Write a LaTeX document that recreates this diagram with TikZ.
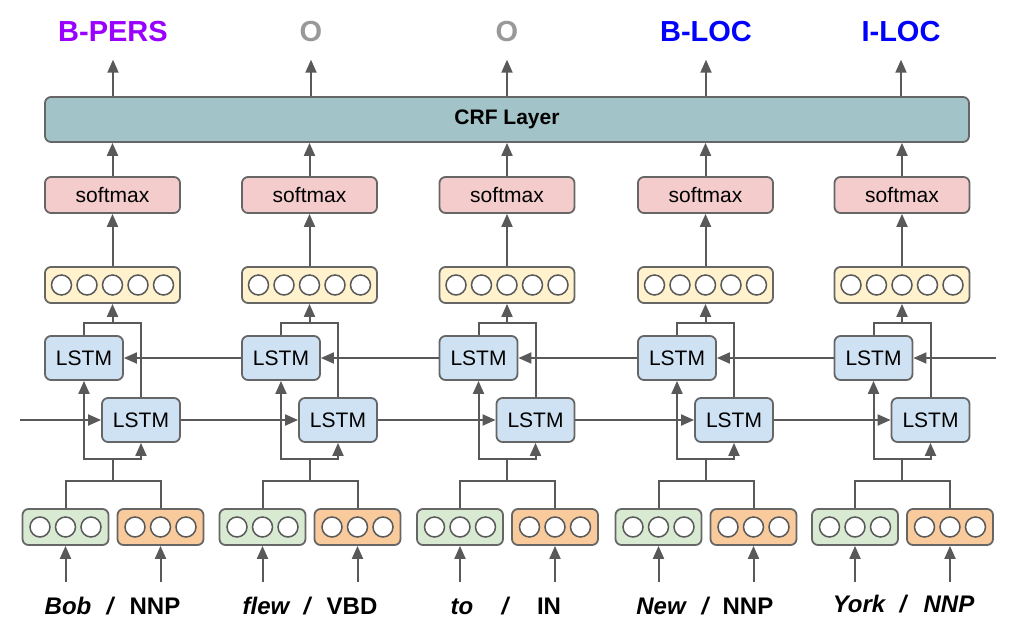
\documentclass[tikz,border=0pt]{standalone}
\usepackage{fontspec}
\setmainfont{Liberation Sans}
\usetikzlibrary{arrows.meta}
\definecolor{linegray}{HTML}{595959}
\definecolor{boxgray}{HTML}{666666}
\definecolor{lstmblue}{HTML}{CFE2F3}
\definecolor{softpink}{HTML}{F4CCCC}
\definecolor{vecyellow}{HTML}{FFF2CC}
\definecolor{embgreen}{HTML}{D9EAD3}
\definecolor{embOrange}{HTML}{F9CB9C}
\definecolor{crfteal}{HTML}{A2C4C9}
\definecolor{tagpurple}{HTML}{9900FF}
\definecolor{tagblue}{HTML}{0000FF}
\definecolor{taggray}{HTML}{999999}
\begin{document}
\begin{tikzpicture}[x=1pt,y=-1pt,
  box/.style={draw=boxgray, line width=1.8pt, rounded corners=6pt, inner sep=0pt},
  lstm/.style={box, fill=lstmblue, minimum width=78pt, minimum height=44pt,
    font=\fontsize{21}{25}\selectfont},
  soft/.style={box, fill=softpink, minimum width=135pt, minimum height=36pt,
    font=\fontsize{21}{25}\selectfont},
  vec/.style={box, fill=vecyellow, minimum width=135pt, minimum height=36pt},
  embw/.style={box, fill=embgreen, minimum width=86pt, minimum height=36pt},
  embt/.style={box, fill=embOrange, minimum width=86pt, minimum height=36pt},
  crf/.style={box, fill=crfteal, minimum width=924pt, minimum height=45pt,
    font=\fontsize{21}{25}\selectfont\bfseries},
  tag/.style={font=\fontsize{29}{34}\selectfont\bfseries, text height=21pt,
    text depth=0pt, inner xsep=0pt, inner ysep=18pt},
  word/.style={anchor=base, inner sep=0pt, font=\fontsize{24}{28}\selectfont\bfseries},
  dot/.style={draw=linegray, fill=white, line width=1.5pt},
  link/.style={draw=linegray, line width=2pt},
  arr/.style={link, -{Triangle[length=13pt,width=11pt]}}
]
\useasboundingbox (0,0) rectangle (1021,635);

% CRF layer across all positions
\node[crf] (crf) at (507,119.5) {CRF Layer};

% output tags
\node[tag, text=tagpurple] (t1) at (113,31) {B-PERS};
\node[tag, text=taggray]   (t2) at (311,31) {O};
\node[tag, text=taggray]   (t3) at (507,31) {O};
\node[tag, text=tagblue]   (t4) at (706,31) {B-LOC};
\node[tag, text=tagblue]   (t5) at (901,31) {I-LOC};

% one column per token
\foreach \i/\X in {1/112.5, 2/309.5, 3/507, 4/705.5, 5/902} {
  \node[soft] (s\i) at (\X,195) {softmax};
  \node[vec]  (v\i) at (\X,285) {};
  \foreach \d in {-51,-25.5,0,25.5,51}
    \path[dot] (\X+\d,285) circle[radius=10pt];
  \node[lstm] (lu\i) at (\X-28.5,358) {LSTM};
  \node[lstm] (ll\i) at (\X+28.5,420) {LSTM};
  \node[embw] (g\i) at (\X-47,527) {};
  \node[embt] (o\i) at (\X+48,527) {};
  \foreach \d in {-25.5,0,25.5} {
    \path[dot] (\X-47+\d,527) circle[radius=10pt];
    \path[dot] (\X+48+\d,527) circle[radius=10pt];
  }
  % junction points of the wiring
  \coordinate (tj\i) at (\X,323);
  \coordinate (ej\i) at (\X,481);
  \coordinate (bj\i) at (\X,459);
  \coordinate (gin\i) at (\X-47,582);
  \coordinate (oin\i) at (\X+48,582);
  % upward connections
  \draw[arr] (t\i.south |- crf.north) -- (t\i.south);
  \draw[arr] (s\i.north) -- (s\i.north |- crf.south);
  \draw[arr] (v\i.north) -- (s\i.south);
  \draw[link] (lu\i.north) |- (tj\i) -| (ll\i.north);
  \draw[arr] (tj\i) -- (v\i.south);
  \draw[link] (g\i.north) |- (ej\i) -| (o\i.north);
  \draw[link] (ej\i) -- (bj\i);
  \draw[arr] (bj\i) -| (lu\i.south);
  \draw[arr] (bj\i) -| (ll\i.south);
  \draw[arr] (gin\i) -- (g\i.south);
  \draw[arr] (oin\i) -- (o\i.south);
}

% forward and backward recurrent links
\coordinate (fin) at (20,420);
\coordinate (bin) at (996,358);
\draw[arr] (fin) -- (ll1.west);
\foreach \a/\b in {1/2,2/3,3/4,4/5}
  \draw[arr] (ll\a.east) -- (ll\b.west);
\draw[arr] (bin) -- (lu5.east);
\foreach \a/\b in {5/4,4/3,3/2,2/1}
  \draw[arr] (lu\a.west) -- (lu\b.east);

% input tokens with their part-of-speech tags
\foreach \i/\w/\wx/\sx/\p/\px/\pf/\by in {
    1/Bob/68/110/NNP/155/\upshape/614,
    2/flew/266/307/VBD/352/\upshape/614,
    3/to/462/505/IN/549/\upshape/614,
    4/New/661/705/NNP/748/\upshape/614,
    5/York/859/903/NNP/949/\itshape/612} {
  \node[word, font=\fontsize{24}{28}\selectfont\bfseries\itshape] (w\i) at (\wx,\by) {\w};
  \node[word, font=\fontsize{24}{28}\selectfont\bfseries\itshape] (sl\i) at (\sx,\by) {/};
  \node[word] (p\i) at (\px,\by) {\pf\p};
}
\end{tikzpicture}
\end{document}
